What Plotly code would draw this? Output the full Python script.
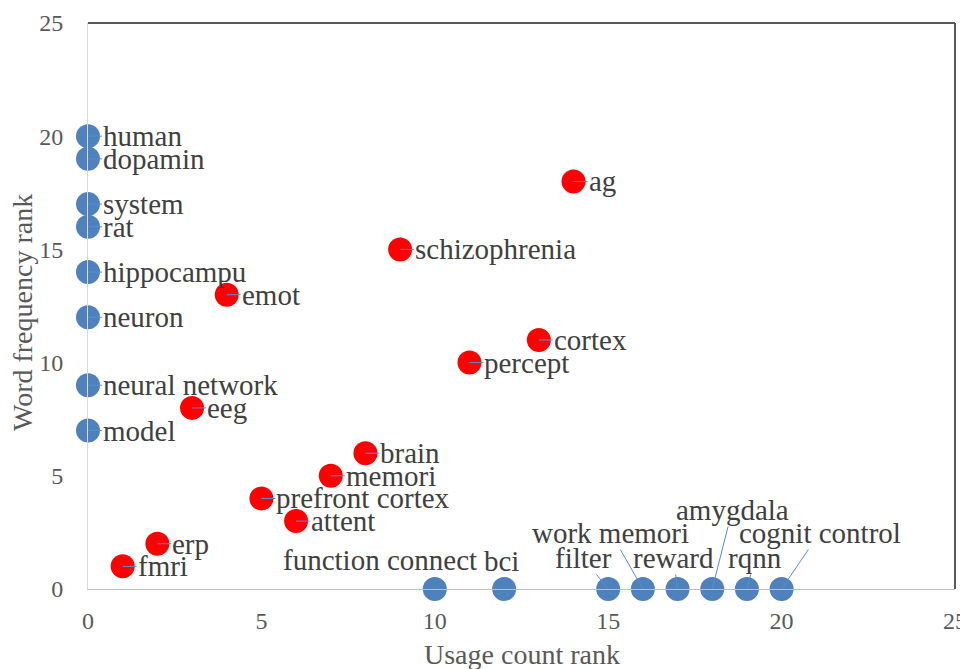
import plotly.graph_objects as go

# ---- data ----
blue_labels = ["human", "dopamin", "system", "rat", "hippocampu", "neuron", "neural network", "model",
               "function connect", "bci", "filter", "work memori", "reward", "amygdala", "rqnn", "cognit control"]
blue_x = [0, 0, 0, 0, 0, 0, 0, 0, 10, 12, 15, 16, 17, 18, 19, 20]
blue_y = [20, 19, 17, 16, 14, 12, 9, 7, 0, 0, 0, 0, 0, 0, 0, 0]

red_labels = ["ag", "schizophrenia", "cortex", "percept", "emot", "eeg", "brain", "memori",
              "prefront cortex", "attent", "erp", "fmri"]
red_x = [14, 9, 13, 11, 4, 3, 8, 7, 5, 6, 2, 1]
red_y = [18, 15, 11, 10, 13, 8, 6, 5, 4, 3, 2, 1]

x_ticks = [0, 5, 10, 15, 20, 25]
y_ticks = [0, 5, 10, 15, 20, 25]

x_title = "Usage count rank"
y_title = "Word frequency rank"

# ---- styling ----
BLUE = "#4F81BD"
RED = "#FF0000"
LEAD = "#5B8BD0"
FONT = "Liberation Serif"
TXT = "#404040"
TICK = "#595959"
LSIZE = 29

# label placement (pixel offsets of label centre from marker) for labels not placed to the right
offsets = {
    "function connect": (-55, -29, False),
    "bci": (-3, -28, False),
    "filter": (-25, -31, True),
    "work memori": (-32, -56, True),
    "reward": (-4, -31, True),
    "amygdala": (20, -79, True),
    "rqnn": (8, -31, True),
    "cognit control": (38, -56, True),
}

fig = go.Figure()
fig.add_trace(go.Scatter(x=blue_x, y=blue_y, mode="markers", cliponaxis=False,
                         marker=dict(size=24, color=BLUE), showlegend=False, hoverinfo="skip"))
fig.add_trace(go.Scatter(x=red_x, y=red_y, mode="markers", cliponaxis=False,
                         marker=dict(size=24, color=RED), showlegend=False, hoverinfo="skip"))

annotations = []
for labels, xs, ys in [(blue_labels, blue_x, blue_y), (red_labels, red_x, red_y)]:
    for lab, xv, yv in zip(labels, xs, ys):
        if lab in offsets:
            ax, ay, arrow = offsets[lab]
            if arrow:
                annotations.append(dict(x=xv, y=yv, xref="x", yref="y", text=lab,
                                        showarrow=True, arrowhead=0, arrowwidth=1, arrowcolor=LEAD,
                                        ax=ax, ay=ay, axref="pixel", ayref="pixel",
                                        font=dict(family=FONT, size=LSIZE, color=TXT), borderpad=0))
            else:
                annotations.append(dict(x=xv, y=yv, xref="x", yref="y", text=lab,
                                        showarrow=False, xshift=ax, yshift=-ay,
                                        font=dict(family=FONT, size=LSIZE, color=TXT)))
        else:
            annotations.append(dict(x=xv, y=yv, xref="x", yref="y", text=lab,
                                    showarrow=True, arrowhead=0, arrowwidth=1, arrowcolor=LEAD,
                                    ax=14, ay=0, axref="pixel", ayref="pixel",
                                    xanchor="left", yanchor="middle", borderpad=0,
                                    font=dict(family=FONT, size=LSIZE, color=TXT)))

# axis titles (paper coords are relative to the plot area)
annotations.append(dict(x=0.5, y=-0.1166, xref="paper", yref="paper",
                        xanchor="center", yanchor="middle",
                        text=x_title, showarrow=False,
                        font=dict(family=FONT, size=28, color=TICK)))
annotations.append(dict(x=-0.0761, y=0.4876, xref="paper", yref="paper",
                        xanchor="center", yanchor="middle",
                        text=y_title, showarrow=False, textangle=-90,
                        font=dict(family=FONT, size=28, color=TICK)))

# page body adds an 8px offset, so the figure is sized/margined to compensate
fig.update_layout(
    width=960, height=661,
    margin=dict(l=80, r=13, t=15, b=80),
    paper_bgcolor="white", plot_bgcolor="white",
    annotations=annotations,
    shapes=[
        dict(type="line", xref="x domain", yref="y domain", x0=0, x1=1, y0=1, y1=1,
             line=dict(color="#595959", width=2)),
        dict(type="line", xref="x domain", yref="y domain", x0=1, x1=1, y0=0, y1=1,
             line=dict(color="#595959", width=2)),
    ],
    xaxis=dict(range=[0, 25], tickvals=x_ticks, showgrid=False, zeroline=False, automargin=False,
               showline=True, linecolor="#BFBFBF", linewidth=1,
               tickfont=dict(family=FONT, size=24, color=TICK), ticklabelstandoff=10),
    yaxis=dict(range=[0, 25], tickvals=y_ticks, showgrid=False, zeroline=False, automargin=False,
               showline=True, linecolor="#D9D9D9", linewidth=1,
               tickfont=dict(family=FONT, size=24, color=TICK), ticklabelstandoff=19),
)

fig.write_html("out.html")
